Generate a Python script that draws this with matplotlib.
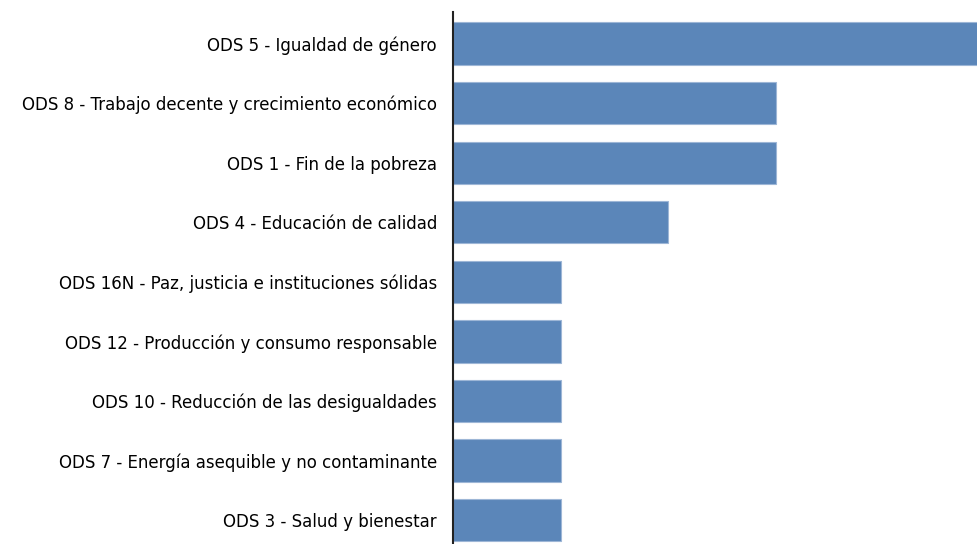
import matplotlib
matplotlib.use("Agg")
import matplotlib.pyplot as plt

categories = [
    "ODS 5 - Igualdad de género",
    "ODS 8 - Trabajo decente y crecimiento económico",
    "ODS 1 - Fin de la pobreza",
    "ODS 4 - Educación de calidad",
    "ODS 16N - Paz, justicia e instituciones sólidas",
    "ODS 12 - Producción y consumo responsable",
    "ODS 10 - Reducción de las desigualdades",
    "ODS 7 - Energía asequible y no contaminante",
    "ODS 3 - Salud y bienestar",
]
values = [5, 3, 3, 2, 1, 1, 1, 1, 1]

fig = plt.figure(figsize=(9.77, 5.44), dpi=100)
ax = fig.add_axes([453 / 977, 0, 1 - 453 / 977, (544 - 12) / 544])
pos = list(range(len(categories)))
ax.barh(pos, values, height=0.71, color="#5B86B9", edgecolor="#9DB6D6", linewidth=0.8)
ax.set_ylim(8.4, -0.53)
ax.set_xlim(0, 4.865)
ax.set_yticks(pos)
ax.set_yticklabels(categories, fontsize=12, family="DejaVu Sans", color="#000000")
ax.tick_params(axis="y", length=0, pad=11.5)
ax.set_xticks([])
for s in ["top", "right", "bottom"]:
    ax.spines[s].set_visible(False)
ax.spines["left"].set_linewidth(1.5)
ax.spines["left"].set_color("#222222")
fig.savefig("out.png", dpi=100)
